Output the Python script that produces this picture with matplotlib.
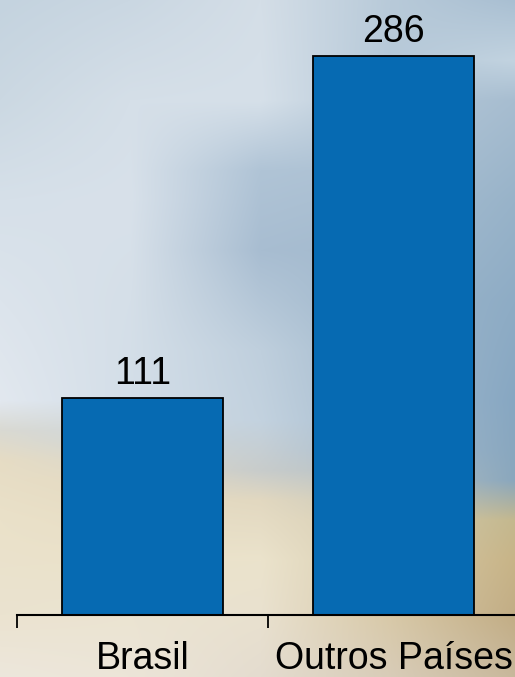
import numpy as np
import matplotlib
matplotlib.use("Agg")
import matplotlib.pyplot as plt
from matplotlib.colors import to_rgb

categories = ["Brasil", "Outros Países"]
values = [111, 286]

W, H = 515, 677
fig = plt.figure(figsize=(W / 100, H / 100), dpi=100)

# background: blurred sky/sand photo approximated by column colour profiles
bg_columns = {
    0:   [(0, "#c4d3df"), (100, "#cbd8e2"), (200, "#d6e0e9"), (300, "#dce4ec"), (400, "#e2e8ef"),
          (430, "#d9d9d2"), (460, "#e6dcc4"), (520, "#eae1c9"), (615, "#ebe3d0"), (677, "#ede7dc")],
    130: [(0, "#cad7e2"), (100, "#d5dfe8"), (200, "#d8e1ea"), (300, "#d5dfe8"), (400, "#d3dee8"),
          (440, "#cfd6d8"), (480, "#e4dac2"), (560, "#ebe2c9"), (615, "#ebe4d2"), (677, "#ece5d8")],
    260: [(0, "#d4dee7"), (100, "#d6e0e9"), (170, "#b0c4d6"), (250, "#a8bdd1"), (350, "#bfcfdd"),
          (420, "#c3d2df"), (470, "#c8cccb"), (500, "#e2d8c0"), (560, "#ebe3cc"), (615, "#e9e1cf"),
          (677, "#e4dccf")],
    390: [(0, "#b8cad9"), (100, "#b5c8d8"), (200, "#a8bed1"), (300, "#9db6cb"), (450, "#a6bccf"),
          (520, "#d6cdb2"), (615, "#d8c9a8"), (677, "#d8ccb8")],
    515: [(0, "#a9bfd2"), (60, "#c2d3e0"), (100, "#a7bdd0"), (200, "#98b3c9"), (300, "#8eacc5"),
          (400, "#87a7c2"), (480, "#8aa7bd"), (520, "#c4b88e"), (560, "#c8b487"), (615, "#c2ad85"),
          (677, "#c8b89c")],
}
ys = np.arange(H)
col_x = sorted(bg_columns)
profiles = []
for cx in col_x:
    kn = bg_columns[cx]
    ky = [k[0] for k in kn]
    kc = np.array([to_rgb(k[1]) for k in kn])
    profiles.append(np.stack([np.interp(ys, ky, kc[:, c]) for c in range(3)], axis=1))
profiles = np.array(profiles)  # (ncol, H, 3)
xs = np.arange(W)
img = np.empty((H, W, 3))
for c in range(3):
    for yi in range(H):
        img[yi, :, c] = np.interp(xs, col_x, profiles[:, yi, c])

bgax = fig.add_axes([0, 0, 1, 1], zorder=0)
bgax.imshow(img, aspect="auto", interpolation="bilinear", extent=[0, 1, 0, 1])
bgax.set_axis_off()

px_per_unit = 1.955
zero_y = 615
slot = 251
left_px = 17

ax = fig.add_axes([left_px / W, (H - zero_y) / H, 2 * slot / W, zero_y / H], zorder=1)
ax.patch.set_alpha(0)
x = np.arange(len(categories))
bars = ax.bar(x, values, width=0.645, color="#066ab2", edgecolor="black", linewidth=1.3)
ax.set_xlim(-0.5, len(categories) - 0.5)
ax.set_ylim(0, zero_y / px_per_unit)

for b, v in zip(bars, values):
    ax.annotate(str(v), (b.get_x() + b.get_width() / 2, v), xytext=(0, 4),
                textcoords="offset points", ha="center", va="bottom",
                fontsize=27, family="Liberation Sans", color="black")

for s in ["top", "right", "left"]:
    ax.spines[s].set_visible(False)
ax.spines["bottom"].set_linewidth(1.5)
ax.set_yticks([])
ax.set_xticks(x)
ax.set_xticklabels(categories, fontsize=27, family="Liberation Sans")
ax.tick_params(axis="x", which="major", length=0, pad=19)
ax.set_xticks(np.arange(len(categories) + 1) - 0.5, minor=True)
ax.tick_params(axis="x", which="minor", length=9, width=1.3, direction="out")

fig.savefig("out.png", dpi=100)
